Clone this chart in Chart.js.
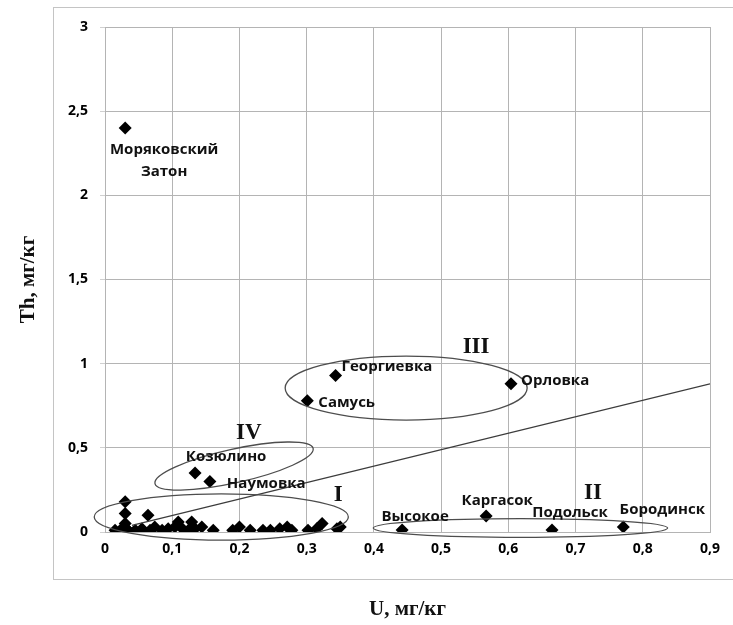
<!DOCTYPE html>
<html>
<head>
<meta charset="utf-8">
<script src="https://cdn.jsdelivr.net/npm/chart.js@4/dist/chart.umd.min.js"></script>
<style>
  html, body { margin: 0; padding: 0; background: #fff; }
</style>
</head>
<body>
<canvas id="myChart" width="733" height="625"></canvas>
<script>
// подписанные пункты
const siteNames = ['Моряковский\nЗатон', 'Георгиевка', 'Самусь', 'Орловка', 'Козюлино', 'Наумовка', 'Высокое', 'Каргасок', 'Подольск', 'Бородинск'];
const siteU = [0.030, 0.343, 0.301, 0.604, 0.134, 0.156, 0.442, 0.567, 0.665, 0.771];
const siteTh = [2.40, 0.93, 0.78, 0.88, 0.35, 0.30, 0.012, 0.095, 0.012, 0.03];

// группа I (без подписей)
const clusterU = [0.030, 0.030, 0.030, 0.032, 0.064, 0.015, 0.025, 0.034, 0.045, 0.055, 0.067, 0.074, 0.085, 0.094, 0.104, 0.109, 0.115, 0.124, 0.129, 0.134, 0.144, 0.161, 0.19, 0.20, 0.216, 0.235, 0.246, 0.26, 0.271, 0.278, 0.302, 0.315, 0.323, 0.345, 0.35];
const clusterTh = [0.18, 0.11, 0.05, 0.02, 0.10, 0.01, 0.02, 0.01, 0.01, 0.02, 0.01, 0.03, 0.01, 0.02, 0.03, 0.06, 0.02, 0.01, 0.06, 0.02, 0.03, 0.01, 0.01, 0.03, 0.01, 0.01, 0.01, 0.02, 0.03, 0.01, 0.01, 0.02, 0.05, 0.02, 0.03];

// линия Th/U
const trendU = [0.04, 0.9];
const trendTh = [0.04, 0.88];

// группы (эллипсы): центр, полуоси в единицах осей
const groupNames = ['I', 'II', 'III', 'IV'];
const groupU = [0.173, 0.618, 0.448, 0.192];
const groupTh = [0.089, 0.024, 0.855, 0.392];
const groupHalfU = [0.189, 0.219, 0.18, 0.1205];
const groupHalfTh = [0.137, 0.056, 0.19, 0.10];
const groupAngle = [0, 0, 0, -12.5];
const groupLabelU = [0.347, 0.726, 0.552, 0.214];
const groupLabelTh = [0.22, 0.23, 1.10, 0.59];

// смещения подписей (px)
const labelStyle = [
  { dx: 39, dy: 22, align: 'center' },
  { dx: 6, dy: -9, align: 'left' },
  { dx: 11, dy: 2, align: 'left' },
  { dx: 10, dy: -3, align: 'left' },
  { dx: 31, dy: -16, align: 'center' },
  { dx: 17, dy: 2, align: 'left' },
  { dx: 13, dy: -13, align: 'center' },
  { dx: 11, dy: -15, align: 'center' },
  { dx: 18, dy: -17, align: 'center' },
  { dx: 39, dy: -17, align: 'center' }
];

const fmt = (v) => String(Math.round(v * 10) / 10).replace('.', ',');
const labelFont = 'bold 15px "Open Sans"';
const gridColor = '#b4b4b4';

const toPoints = (xs, ys) => xs.map((v, i) => ({ x: v, y: ys[i] }));

// рамка, эллипсы, подписи
const decorPlugin = {
  id: 'decor',
  beforeDraw(chart) {
    const ctx = chart.ctx;
    ctx.save();
    ctx.strokeStyle = '#c4c4c4';
    ctx.lineWidth = 1;
    ctx.strokeRect(53.5, 7.5, 700, 572);
    ctx.restore();
  },
  afterDatasetsDraw(chart) {
    const { ctx, scales: { x, y } } = chart;
    ctx.save();
    // эллипсы
    ctx.strokeStyle = '#4d4d4d';
    ctx.lineWidth = 1.3;
    groupNames.forEach((g, i) => {
      const cx = x.getPixelForValue(groupU[i]);
      const cy = y.getPixelForValue(groupTh[i]);
      const rx = Math.abs(x.getPixelForValue(groupU[i] + groupHalfU[i]) - cx);
      const ry = Math.abs(y.getPixelForValue(groupTh[i] + groupHalfTh[i]) - cy);
      ctx.beginPath();
      ctx.ellipse(cx, cy, rx, ry, groupAngle[i] * Math.PI / 180, 0, Math.PI * 2);
      ctx.stroke();
    });
    // римские цифры
    ctx.fillStyle = '#111';
    ctx.font = 'bold 23px "Liberation Serif"';
    ctx.textAlign = 'center';
    ctx.textBaseline = 'middle';
    groupNames.forEach((g, i) => {
      ctx.fillText(g, x.getPixelForValue(groupLabelU[i]), y.getPixelForValue(groupLabelTh[i]));
    });
    // названия пунктов
    ctx.font = labelFont;
    ctx.fillStyle = '#111';
    siteNames.forEach((name, i) => {
      const st = labelStyle[i];
      const px = x.getPixelForValue(siteU[i]) + st.dx;
      const py = y.getPixelForValue(siteTh[i]) + st.dy;
      ctx.textAlign = st.align;
      name.split('\n').forEach((line, k) => {
        ctx.fillText(line, px, py + k * 22);
      });
    });
    ctx.restore();
  }
};

const config = {
  type: 'scatter',
  data: {
    datasets: [
      {
        label: 'trend',
        type: 'line',
        data: toPoints(trendU, trendTh),
        borderColor: '#3c3c3c',
        borderWidth: 1.3,
        pointRadius: 0,
        fill: false
      },
      {
        label: 'группа I',
        data: toPoints(clusterU, clusterTh),
        pointStyle: 'rectRot',
        pointRadius: 6.5,
        backgroundColor: '#000',
        borderColor: '#000',
        borderWidth: 0
      },
      {
        label: 'пункты',
        data: toPoints(siteU, siteTh),
        pointStyle: 'rectRot',
        pointRadius: 6.5,
        backgroundColor: '#000',
        borderColor: '#000',
        borderWidth: 0
      }
    ]
  },
  options: {
    responsive: false,
    animation: false,
    devicePixelRatio: 1,
    layout: { padding: { top: 27, right: 23, left: 0, bottom: 0 } },
    plugins: {
      legend: { display: false },
      tooltip: { enabled: false }
    },
    scales: {
      x: {
        type: 'linear',
        min: 0,
        max: 0.9,
        afterFit: (scale) => { scale.height = 93; },
        ticks: {
          stepSize: 0.1,
          callback: (v) => fmt(v),
          color: '#000',
          font: { family: 'Open Sans', weight: 'bold', size: 14 },
          padding: 4,
          maxRotation: 0
        },
        grid: { color: gridColor, tickLength: 5, tickColor: 'rgba(0,0,0,0)' },
        border: { color: gridColor },
        title: {
          display: true,
          text: 'U, мг/кг',
          color: '#111',
          font: { family: 'Liberation Serif', weight: 'bold', size: 21 },
          padding: { top: 0, bottom: 3 }
        }
      },
      y: {
        min: 0,
        max: 3,
        afterFit: (scale) => { scale.width = 105; },
        ticks: {
          stepSize: 0.5,
          callback: (v) => fmt(v),
          color: '#000',
          font: { family: 'Open Sans', weight: 'bold', size: 14 },
          padding: 12
        },
        grid: { color: gridColor, tickLength: 5, tickColor: '#d0d0d0' },
        border: { color: gridColor },
        title: {
          display: true,
          text: 'Th, мг/кг',
          color: '#111',
          font: { family: 'Liberation Serif', weight: 'bold', size: 21 },
          padding: { top: 16, bottom: 0 }
        }
      }
    }
  },
  plugins: [decorPlugin]
};

new Chart(document.getElementById('myChart'), config);
</script>
</body>
</html>
